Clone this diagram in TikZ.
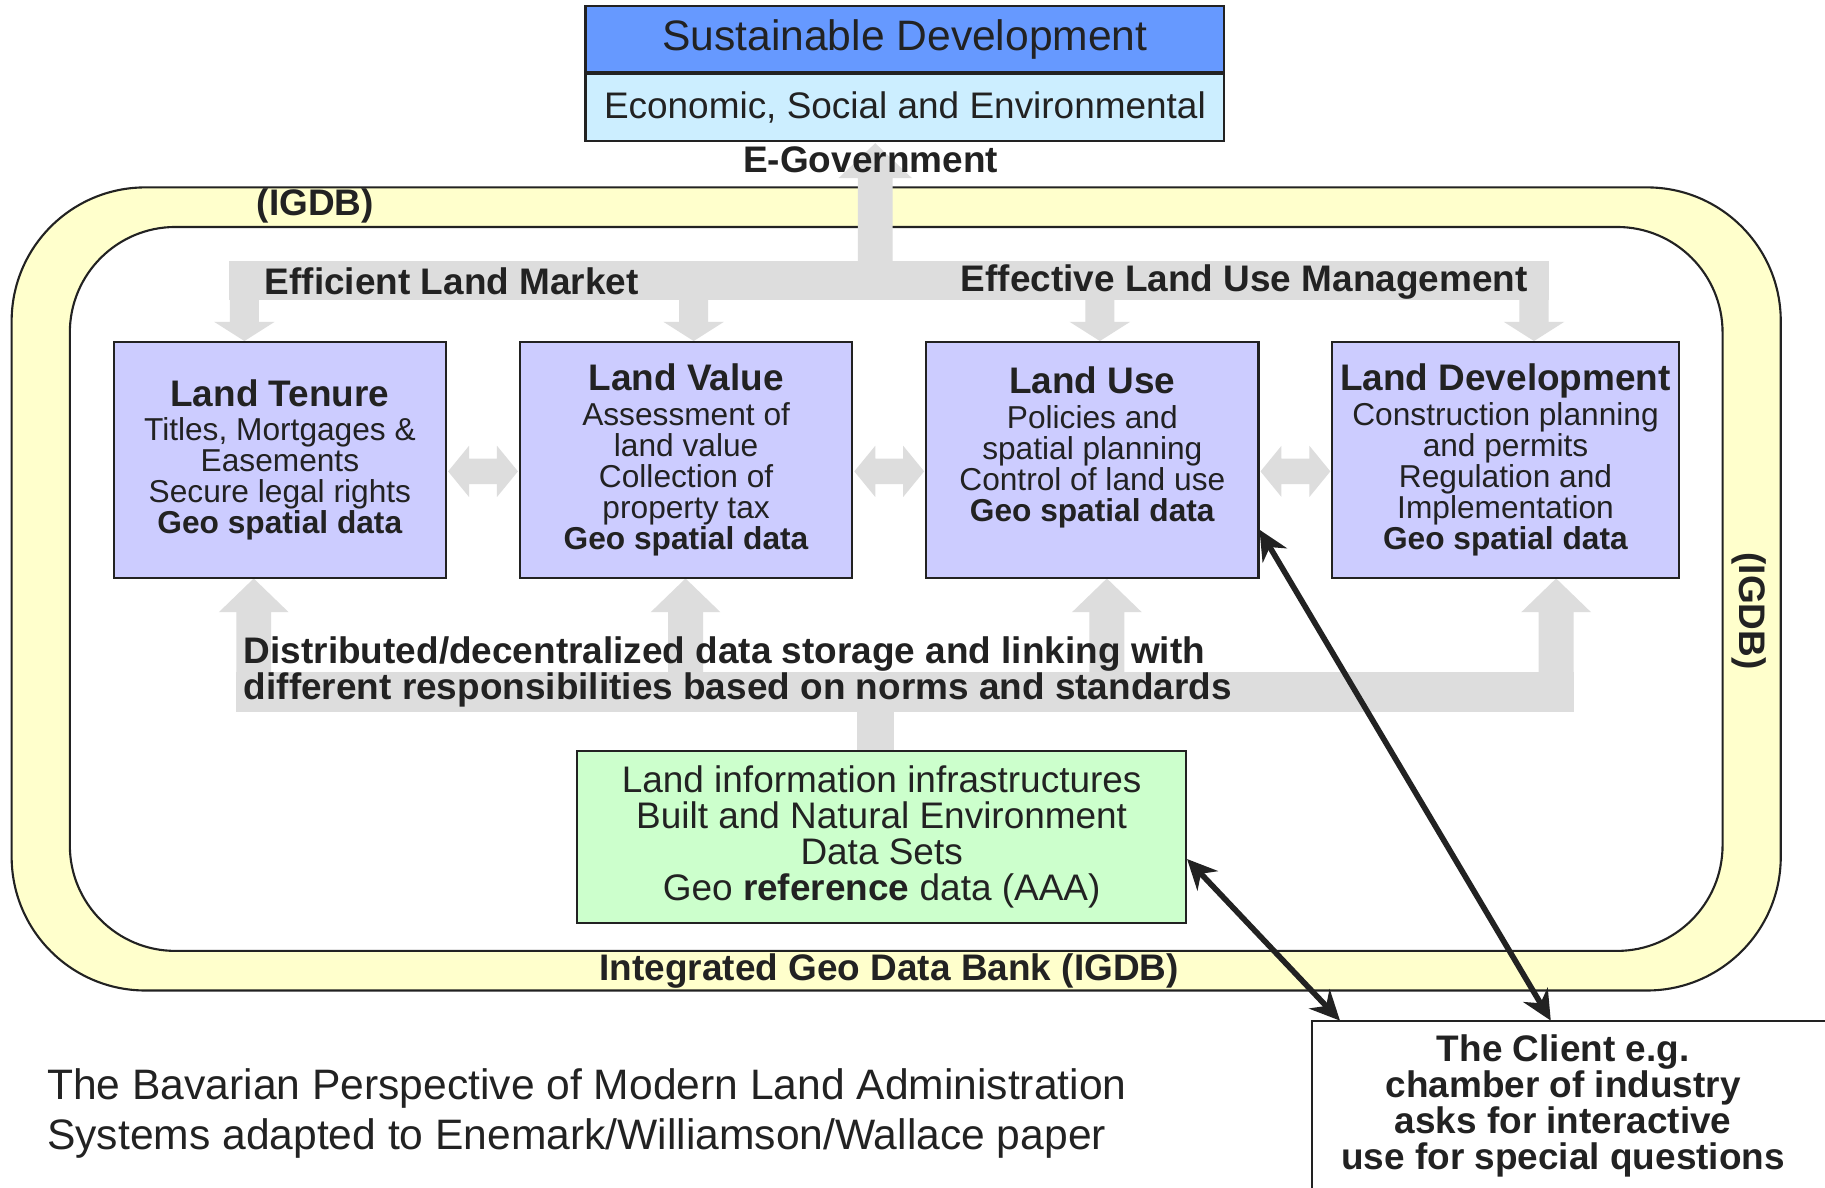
\documentclass[tikz,border=0pt]{standalone}
\usepackage{fontspec}
\setmainfont{Liberation Sans}
\usepackage{tikz}
\usetikzlibrary{arrows.meta, positioning}

\definecolor{sdblue}{HTML}{6699FF}
\definecolor{sdlight}{HTML}{CCEEFF}
\definecolor{boxlilac}{HTML}{CCCCFF}
\definecolor{boxgreen}{HTML}{CCFFCC}
\definecolor{bandyellow}{HTML}{FFFFCC}
\definecolor{bargray}{HTML}{DDDDDD}
\definecolor{ink}{HTML}{222222}

% one pixel of the layout
\newcommand{\pxu}{0.3307pt}
\newcommand{\boxtitle}[1]{{\bfseries\fontsize{10.5}{8.8}\selectfont #1}\\[1pt]}

\tikzset{
  landbox/.style={draw=ink, line width=0.6pt, fill=boxlilac, text=ink, align=center,
    minimum width=285.5*\pxu, minimum height=202.5*\pxu, inner sep=0pt,
    font=\fontsize{9}{8.8}\selectfont},
  topbox/.style={draw=ink, line width=0.6pt, text=ink, inner sep=0pt,
    minimum width=549*\pxu, minimum height=57*\pxu},
  barlabel/.style={text=ink, inner sep=0pt, font=\bfseries\fontsize{10.5}{10.25}\selectfont},
  clientarrow/.style={draw=ink, line width=1.6pt,
    {Stealth[length=8.5pt,width=8pt]}-{Stealth[length=8.5pt,width=8pt]}},
}

\begin{document}
\begin{tikzpicture}[x=\pxu, y=-\pxu]
  \useasboundingbox (0,0) rectangle (1568,1020);
  % IGDB band
  \draw[ink, line width=0.6pt, fill=bandyellow, rounded corners=38pt] (10,161) rectangle (1530,851);
  \draw[ink, line width=0.6pt, fill=white, rounded corners=30pt] (60,195) rectangle (1480,817);
  % Upper gray arrows
  \fill[bargray] (197,224) rectangle (1331,258);
  \fill[bargray] (737,225) -- (737,153) -- (720.5,153) -- (752,123) -- (783.5,153) -- (767,153) -- (767,225) -- cycle;
  \foreach \x in {210,596,945,1318}
    \fill[bargray] (\x-12.5,257) -- (\x-12.5,276.5) -- (\x-26,276.5) -- (\x,293)
      -- (\x+26,276.5) -- (\x+12.5,276.5) -- (\x+12.5,257) -- cycle;
  % Lower gray arrows
  \fill[bargray] (203,577) rectangle (1352,612);
  \fill[bargray] (736,611) rectangle (768,646);
  \foreach \x in {218,589,951,1337}
    \fill[bargray] (\x-15,578) -- (\x-15,526) -- (\x-30,526) -- (\x,497)
      -- (\x+30,526) -- (\x+15,526) -- (\x+15,578) -- cycle;
  % Arrows between the boxes
  \foreach \a/\b in {385/445, 734/794, 1083/1143}
    \fill[bargray] (\a,405) -- (\a+18,383) -- (\a+18,394) -- (\b-18,394) -- (\b-18,383) -- (\b,405)
      -- (\b-18,427) -- (\b-18,416) -- (\a+18,416) -- (\a+18,427) -- cycle;
  % Sustainable development
  \node[topbox, fill=sdblue, font=\fontsize{12.1}{14}\selectfont] (sustain) at (777.5,33.5) {Sustainable Development};
  \node[topbox, fill=sdlight, font=\fontsize{10.5}{12}\selectfont, below=0pt of sustain] (econ) {Economic, Social and Environmental};
  % Land boxes
  \node[landbox] (tenure) at (240.5,395) {\boxtitle{Land Tenure}Titles, Mortgages \&\\ Easements\\ Secure legal rights\\ \textbf{Geo spatial data}};
  \node[landbox] (value) at (589.5,395) {\boxtitle{Land Value}Assessment of\\ land value\\ Collection of\\ property tax\\ \textbf{Geo spatial data}};
  \node[landbox] (use) at (938.5,395) {\boxtitle{Land Use}Policies and\\ spatial planning\\ Control of land use\\ \textbf{Geo spatial data}\\ \mbox{}};
  \node[landbox, minimum width=297.5*\pxu] (devel) at (1293.5,395) {\boxtitle{Land Development}Construction planning\\ and permits\\ Regulation and\\ Implementation\\ \textbf{Geo spatial data}};
  % Land information
  \node[draw=ink, line width=0.6pt, fill=boxgreen, text=ink, align=center, inner sep=0pt,
    minimum width=523*\pxu, minimum height=148*\pxu, font=\fontsize{10.5}{10.25}\selectfont] (lis) at (757.5,719)
    {Land information infrastructures\\ Built and Natural Environment\\ Data Sets\\ Geo \textbf{reference} data (AAA)};
  % Client
  \node[text=ink, align=center, inner sep=0pt, minimum width=430*\pxu, minimum height=145*\pxu,
    font=\bfseries\fontsize{10.5}{10.25}\selectfont] (client) at (1343,950)
    {The Client e.g.\\ chamber of industry\\ asks for interactive\\ use for special questions};
  \draw[ink, line width=0.6pt] (client.south west) -- (client.north west) -- ++(460,0);
  % Labels
  \node[barlabel] (egov) at (748,137) {E-Government};
  \node[barlabel, anchor=west] (market) at (227,242) {Efficient Land Market};
  \node[barlabel, anchor=west] (manage) at (825,242) {Effective Land Use Management};
  \node[barlabel] (igdbtop) at (271,177) {(IGDB)};
  \node[barlabel, rotate=-90] (igdbright) at (1503,525) {(IGDB)};
  \node[barlabel] (igdb) at (764,834) {Integrated Geo Data Bank (IGDB)};
  \node[barlabel, anchor=west, align=left] (storage) at (209,577)
    {Distributed/decentralized data storage and linking with\\ different responsibilities based on norms and standards};
  \node[text=ink, anchor=west, align=left, inner sep=0pt, font=\fontsize{12.1}{14.2}\selectfont] (caption) at (40,957)
    {The Bavarian Perspective of Modern Land Administration\\ Systems adapted to Enemark/Williamson/Wallace paper};
  % Client arrows
  \draw[clientarrow] ([yshift=13.9pt]use.south east) -- ([xshift=67.8pt]client.north west);
  \draw[clientarrow] ([yshift=-6.3pt]lis.east) -- ([xshift=7.9pt]client.north west);
\end{tikzpicture}
\end{document}
